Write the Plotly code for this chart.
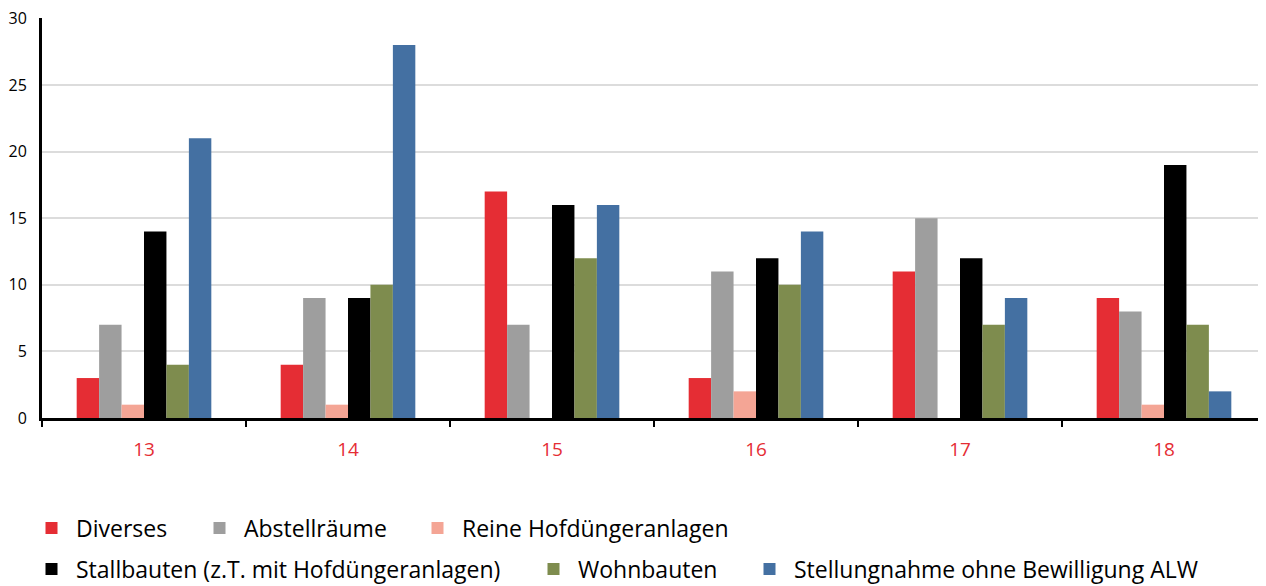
import plotly.graph_objects as go

categories = ["13", "14", "15", "16", "17", "18"]
series_names = [
    "Diverses",
    "Abstellräume",
    "Reine Hofdüngeranlagen",
    "Stallbauten (z.T. mit Hofdüngeranlagen)",
    "Wohnbauten",
    "Stellungnahme ohne Bewilligung ALW",
]
diverses = [3, 4, 17, 3, 11, 9]
abstellraeume = [7, 9, 7, 11, 15, 8]
reine_hofduenger = [1, 1, 0, 2, 0, 1]
stallbauten = [14, 9, 16, 12, 12, 19]
wohnbauten = [4, 10, 12, 10, 7, 7]
stellungnahme = [21, 28, 16, 14, 9, 2]
y_ticks = [0, 5, 10, 15, 20, 25, 30]

colors = ["#e52d34", "#9e9e9e", "#f4a595", "#000000", "#7e8c4e", "#4470a2"]
values = [diverses, abstellraeume, reine_hofduenger, stallbauten, wohnbauten, stellungnahme]

FONT = "Open Sans"
PAGE_OFF = 8  # default body margin of the html page
W, H = 1266 - PAGE_OFF, 586 - PAGE_OFF
ML, MR, MT, MB = 42 - PAGE_OFF, 0, 18 - PAGE_OFF, 168
PW, PH = W - ML - MR, H - MT - MB

# legend entry placement (page-pixel centres of the legend swatches)
legend_centers = [(51.5, 528), (219.5, 528), (437.5, 528),
                  (51.5, 569), (553.5, 569), (769.5, 569)]
ITEMW = 39
SWATCH_OFFSET = 5 + ITEMW / 2  # legend x -> swatch centre

fig = go.Figure()
legend_layouts = {}
for i, (name, vals, col) in enumerate(zip(series_names, values, colors)):
    lid = "legend" if i == 0 else f"legend{i + 1}"
    fig.add_trace(go.Bar(
        x=categories, y=vals, name=name, marker=dict(color=col, line=dict(width=0)),
        legend=lid, showlegend=True,
    ))
    cx, cy = legend_centers[i]
    cx -= PAGE_OFF
    cy -= PAGE_OFF
    legend_layouts[lid] = dict(
        orientation="h", xanchor="left", yanchor="middle",
        x=(cx - SWATCH_OFFSET - ML) / PW, y=-(cy - (MT + PH)) / PH,
        font=dict(family=FONT, size=23, color="#000000"),
        bgcolor="rgba(0,0,0,0)", itemwidth=ITEMW,
        itemclick=False, itemdoubleclick=False,
    )

fig.update_layout(
    width=W, height=H,
    showlegend=True,
    margin=dict(l=ML, r=MR, t=MT, b=MB, autoexpand=False),
    paper_bgcolor="white", plot_bgcolor="white",
    barmode="group", bargap=0.34, bargroupgap=0,
    font=dict(family=FONT, color="#000000"),
    xaxis=dict(
        type="category", showline=True, linecolor="#000000", linewidth=3,
        ticks="outside", tickson="boundaries", ticklen=6, tickwidth=2, tickcolor="#000000",
        tickfont=dict(family=FONT, size=19, color="#e52d34"),
        ticklabelstandoff=12, showgrid=False, automargin=False,
    ),
    yaxis=dict(
        range=[0, 30.03], tickvals=y_ticks, showline=True, linecolor="#000000", linewidth=3,
        showgrid=True, gridcolor="#dcdcdc", gridwidth=1.5, zeroline=False,
        tickfont=dict(family=FONT, size=16, color="#000000"), ticks="",
        ticklabelstandoff=9, automargin=False, ticklabeloverflow="allow",
    ),
    **legend_layouts,
)

fig.write_html("out.html")
